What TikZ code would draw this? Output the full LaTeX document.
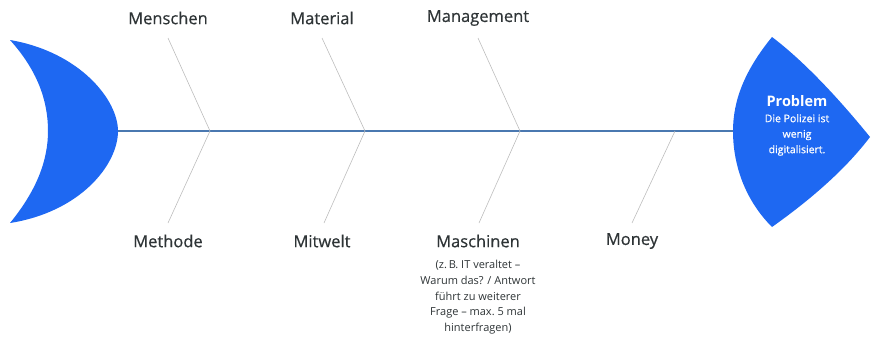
\documentclass[tikz,border=0pt]{standalone}
\usepackage{fontspec}
\setmainfont{Open Sans}
\newfontfamily\semib[FakeBold=0.6]{Open Sans}
\begin{document}
\begin{tikzpicture}[x=1pt,y=-1pt,
  fishblue/.style={fill=fblue,draw=none},
  spine/.style={draw=fspine,line width=1.2pt},
  bone/.style={draw=fbone,line width=0.6pt},
  cat/.style={text=ftext,font=\semib\fontsize{16.5}{18}\selectfont,inner sep=0pt,anchor=center},
  note/.style={text=ftext,font=\fontsize{11}{15.8}\selectfont,align=center,inner sep=0pt,anchor=north},
  headtxt/.style={text=white,align=center,inner sep=0pt}]
\definecolor{fblue}{HTML}{1E68F2}
\definecolor{fspine}{HTML}{4A78B0}
\definecolor{fbone}{HTML}{BDBDBD}
\definecolor{ftext}{HTML}{2E3436}
\useasboundingbox (0,0) rectangle (872,340);
% tail
\fill[fishblue] (10,40) .. controls (80,52) and (118,100) .. (118,131)
  .. controls (118,165) and (80,212) .. (10,223)
  .. controls (37,190) and (48,160) .. (48,131)
  .. controls (48,100) and (37,70) .. (10,40) -- cycle;
% head
\fill[fishblue] (772,37) .. controls (745,70) and (733,100) .. (733,131)
  .. controls (733,165) and (745,200) .. (772,227)
  .. controls (810,200) and (845,170) .. (870,137)
  .. controls (840,100) and (805,62) .. (772,37) -- cycle;
\coordinate (tail) at (118,131);
\coordinate (head) at (733,131);
\draw[spine] (tail) -- (head);
% joints
\coordinate (j1) at (210,131);
\coordinate (j2) at (365,131);
\coordinate (j3) at (520,131);
\coordinate (j4) at (675,131);
% bone ends
\coordinate (t1) at (168,38);
\coordinate (t2) at (322,38);
\coordinate (t3) at (478,38);
\coordinate (b1) at (168,223);
\coordinate (b2) at (324,223);
\coordinate (b3) at (479,223);
\coordinate (b4) at (632,223);
\draw[bone] (t1) -- (j1) -- (b1);
\draw[bone] (t2) -- (j2) -- (b2);
\draw[bone] (t3) -- (j3) -- (b3);
\draw[bone] (j4) -- (b4);
% labels
\node[cat] (menschen) at (168,18) {Menschen};
\node[cat] (material) at (322,18) {Material};
\node[cat] (management) at (478,18) {Management};
\node[cat] (methode) at (168,241) {Methode};
\node[cat] (mitwelt) at (322,241) {Mitwelt};
\node[cat] (maschinen) at (478,241) {Maschinen};
\node[cat] (money) at (632,241) {Money};
\node[note] (maschnote) at (478,260) {(z.\,B. IT veraltet –\\Warum das? / Antwort\\führt zu weiterer\\Frage – max.\ 5 mal\\hinterfragen)};
% head text
\node[headtxt,font=\bfseries\fontsize{14.5}{16}\selectfont] (problem) at (797,101) {Problem};
\node[headtxt,font=\semib\fontsize{10.5}{15.5}\selectfont,anchor=north] (probtxt) at (797,114) {Die Polizei ist\\wenig\\digitalisiert.};
\end{tikzpicture}
\end{document}
